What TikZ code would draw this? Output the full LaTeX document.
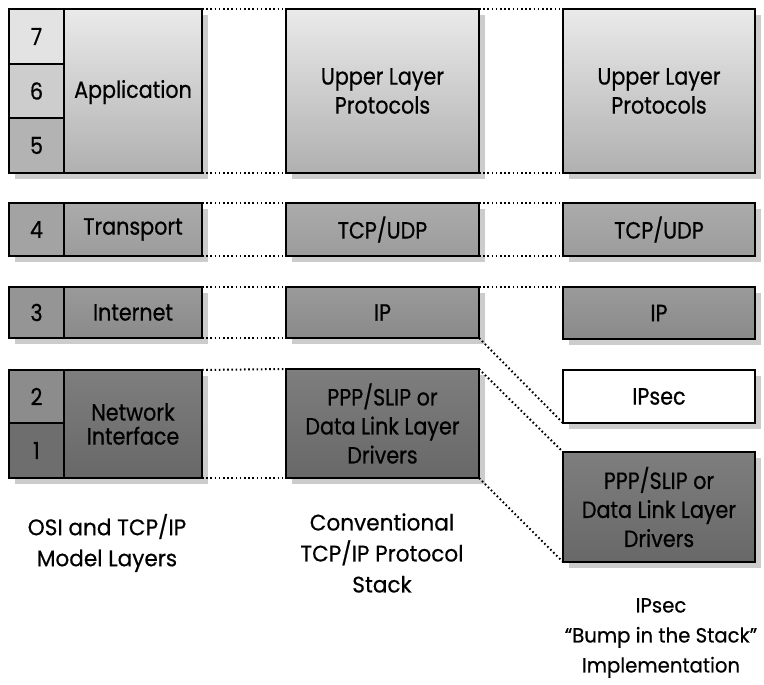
\documentclass[tikz,border=0pt]{standalone}
\usepackage{fontspec}
\setmainfont{Poppins}[FakeStretch=0.88, FakeBold=0.6]
\newfontfamily\capfamily{Poppins}[FakeStretch=0.96, FakeBold=0.5, Ligatures=TeX]
\usetikzlibrary{shadows}
\definecolor{upTop}{HTML}{EAEAEA}
\definecolor{upBot}{HTML}{B0B0B0}
\definecolor{trTop}{HTML}{ABABAB}
\definecolor{trBot}{HTML}{9C9C9C}
\definecolor{ipTop}{HTML}{9A9A9A}
\definecolor{ipBot}{HTML}{8A8A8A}
\definecolor{nlTop}{HTML}{7E7E7E}
\definecolor{nlBot}{HTML}{686868}
\definecolor{cSeven}{HTML}{E3E3E3}
\definecolor{cSix}{HTML}{CDCDCD}
\definecolor{cFive}{HTML}{B3B3B3}
\definecolor{cFour}{HTML}{A3A3A3}
\definecolor{cThree}{HTML}{959595}
\definecolor{cTwo}{HTML}{8C8C8C}
\definecolor{cOne}{HTML}{6E6E6E}
\definecolor{shadowgray}{HTML}{CCCCCC}
\newcommand{\boxfont}{\fontsize{23.5}{29}\selectfont}
\newcommand{\labfont}{\capfamily\fontsize{22.5}{31}\selectfont}
\newcommand{\labfontsmall}{\capfamily\fontsize{20.5}{30}\selectfont}
\begin{document}
\begin{tikzpicture}[x=1pt,y=-1pt,
  layerbox/.style={draw=black, line width=2.2pt, inner sep=0pt, outer sep=0pt,
    align=center, font=\boxfont,
    drop shadow={shadow xshift=6pt, shadow yshift=-6pt, fill=shadowgray, opacity=1}},
  upperfill/.style={top color=upTop, bottom color=upBot},
  transfill/.style={top color=trTop, bottom color=trBot},
  ipfill/.style={top color=ipTop, bottom color=ipBot},
  netfill/.style={top color=nlTop, bottom color=nlBot},
  numcell/.style={draw=black, line width=1.2pt, inner sep=0pt, outer sep=0pt,
    minimum width=55pt, font=\boxfont},
  boxtext/.style={inner sep=0pt, align=center, font=\boxfont},
  frame/.style={draw=black, line width=2.2pt},
  dotline/.style={draw=black, line width=2pt, dash pattern=on 1.6pt off 2.6pt},
  caption/.style={align=center, font=\labfont, inner sep=0pt}
]
\useasboundingbox (0,0) rectangle (764,685);

% ---------- Column 1: OSI and TCP/IP model layers ----------
\node[layerbox, upperfill, minimum width=193pt, minimum height=164pt] (app) at (105.5,91) {};
\node[numcell, fill=cSeven, minimum height=55pt] (n7) at (36.5,36.5) {7};
\node[numcell, fill=cSix, minimum height=54pt] (n6) at (36.5,91) {6};
\node[numcell, fill=cFive, minimum height=55pt] (n5) at (36.5,145.5) {5};
\draw[frame] (app.north west) rectangle (app.south east);
\node[boxtext] (appt) at (133,92) {Application};

\node[layerbox, transfill, minimum width=193pt, minimum height=53pt] (trn) at (105.5,229.5) {};
\node[numcell, fill=cFour, minimum height=53pt] (n4) at (36.5,229.5) {4};
\draw[frame] (trn.north west) rectangle (trn.south east);
\node[boxtext] (trnt) at (133,229.5) {Transport};

\node[layerbox, ipfill, minimum width=193pt, minimum height=51pt] (inet) at (105.5,312.5) {};
\node[numcell, fill=cThree, minimum height=51pt] (n3) at (36.5,312.5) {3};
\draw[frame] (inet.north west) rectangle (inet.south east);
\node[boxtext] (inett) at (133,312.5) {Internet};

\node[layerbox, netfill, minimum width=193pt, minimum height=108pt] (net) at (105.5,424) {};
\node[numcell, fill=cTwo, minimum height=53pt] (n2) at (36.5,396.5) {2};
\node[numcell, fill=cOne, minimum height=55pt] (n1) at (36.5,450.5) {1};
\draw[frame] (net.north west) rectangle (net.south east);
\node[boxtext, font=\fontsize{23.5}{24}\selectfont] (nett) at (133,424) {Network\\Interface};

% ---------- Column 2: conventional stack ----------
\node[layerbox, upperfill, minimum width=193pt, minimum height=164pt] (up2) at (382.5,91) {Upper Layer\\Protocols};
\node[layerbox, transfill, minimum width=193pt, minimum height=53pt] (tcp2) at (382.5,229.5) {TCP/UDP};
\node[layerbox, ipfill, minimum width=193pt, minimum height=51pt] (ip2) at (382.5,312.5) {IP};
\node[layerbox, netfill, minimum width=193pt, minimum height=109pt] (ppp2) at (382.5,423.5) {PPP/SLIP or\\Data Link Layer\\Drivers};

% ---------- Column 3: bump in the stack ----------
\node[layerbox, upperfill, minimum width=192pt, minimum height=164pt] (up3) at (659,91) {Upper Layer\\Protocols};
\node[layerbox, transfill, minimum width=192pt, minimum height=53pt] (tcp3) at (659,229.5) {TCP/UDP};
\node[layerbox, ipfill, minimum width=192pt, minimum height=52pt] (ip3) at (659,313) {IP};
\node[layerbox, fill=white, minimum width=192pt, minimum height=53pt] (ipsec) at (659,396.5) {IPsec};
\node[layerbox, netfill, minimum width=192pt, minimum height=110pt] (ppp3) at (659,507) {PPP/SLIP or\\Data Link Layer\\Drivers};

% ---------- dotted correspondences ----------
\draw[dotline] (app.north east) -- (up2.north west);
\draw[dotline] (app.south east) -- (up2.south west);
\draw[dotline] (trn.north east) -- (tcp2.north west);
\draw[dotline] (trn.south east) -- (tcp2.south west);
\draw[dotline] (inet.north east) -- (ip2.north west);
\draw[dotline] (inet.south east) -- (ip2.south west);
\draw[dotline] (net.north east) -- (ppp2.north west);
\draw[dotline] (net.south east) -- (ppp2.south west);

\draw[dotline] (up2.north east) -- (up3.north west);
\draw[dotline] (up2.south east) -- (up3.south west);
\draw[dotline] (tcp2.north east) -- (tcp3.north west);
\draw[dotline] (tcp2.south east) -- (tcp3.south west);
\draw[dotline] (ip2.north east) -- (ip3.north west);
\draw[dotline] (ip2.south east) -- (ipsec.south west);
\draw[dotline] (ppp2.north east) -- (ppp3.north west);
\draw[dotline] (ppp2.south east) -- (ppp3.south west);

% ---------- captions ----------
\node[caption] (cap1) at (107,543) {OSI and TCP/IP\\Model Layers};
\node[caption] (cap2) at (382,553) {Conventional\\TCP/IP Protocol\\Stack};
\node[caption, font=\labfontsmall] (cap3) at (661,638) {IPsec\\“Bump in the Stack”\\Implementation};
\end{tikzpicture}
\end{document}
